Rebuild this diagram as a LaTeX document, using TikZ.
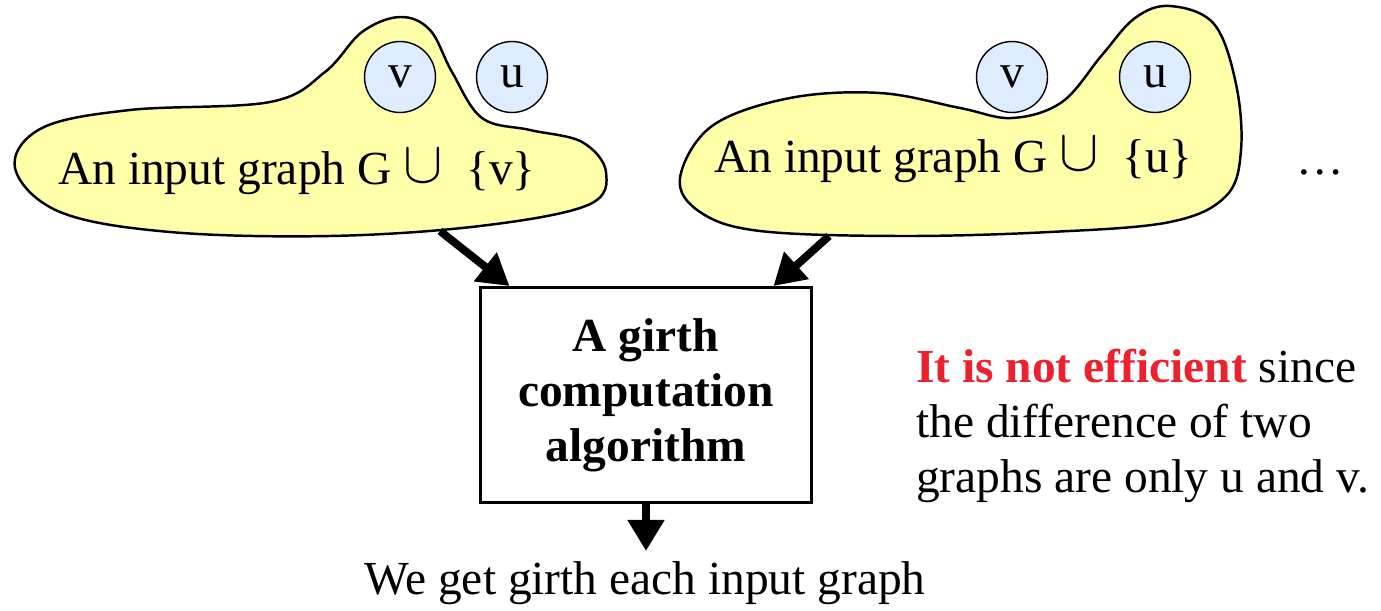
\documentclass[tikz,border=0pt]{standalone}
\usepackage{fontspec}
\setmainfont{Liberation Serif}
\usepackage{tikz}
\usetikzlibrary{arrows.meta,positioning,calc}

\definecolor{blobfill}{RGB}{255,255,170}
\definecolor{vertfill}{RGB}{222,236,255}
\definecolor{alertred}{RGB}{237,32,45}
\newcommand{\bigcupsym}{\raisebox{0.05em}{\scalebox{1.35}{$\cup$}}}

\begin{document}
\begin{tikzpicture}[
    x=0.02cm, y=-0.02cm,
    font=\fontsize{27}{31.3}\selectfont,
    blob/.style={draw=black, fill=blobfill, line width=1.4pt},
    vert/.style={circle, draw=black, fill=vertfill, line width=0.8pt, minimum size=1.42cm, inner sep=0pt},
    algbox/.style={rectangle, draw=black, line width=1.7pt, minimum width=6.64cm, minimum height=4.3cm, align=center, font=\fontsize{27}{31.3}\selectfont\bfseries},
    bigarrow/.style={-{Triangle[length=0.62cm, width=0.7cm]}, line width=4.5pt}
]
\useasboundingbox (0,0) rectangle (1381,611);

% Left input graph G + {v}
\draw[blob] plot[smooth cycle, tension=0.6] coordinates {
    (15,168) (42,128) (130,110) (270,102) (325,72) (362,32) (400,17) (430,30)
    (452,72) (482,118) (530,130) (582,142) (606,172) (588,205) (480,226)
    (330,236) (170,232) (60,212)};
\node[vert] (lv) at (400,77) {v};
\node[vert] (lu) at (512,77) {u};
\node (lgraph) at (297,172) {An input graph G \bigcupsym~~\{v\}};

% Right input graph G + {u}
\draw[blob] plot[smooth cycle, tension=0.6] coordinates {
    (680,178) (712,126) (790,98) (880,93) (960,108) (1012,118) (1062,102)
    (1102,55) (1135,18) (1170,6) (1214,24) (1236,84) (1241,150) (1226,196)
    (1170,222) (1050,232) (900,236) (760,231) (700,212)};
\node[vert] (rv) at (1012,77) {v};
\node[vert] (ru) at (1155,77) {u};
\node (rgraph) at (953,160) {An input graph G \bigcupsym~~\{u\}};
\node (more) at (1320,172) {\dots};

% Algorithm and its result
\node[algbox] (alg) at (646,395) {A girth\\ computation\\ algorithm};
\node (result) at (645,583) {We get girth each input graph};

\node[anchor=north west, align=left] (remark) at (910,343)
    {\textcolor{alertred}{\textbf{It is not efficient}} since\\ the difference of two\\ graphs are only u and v.};

% Connections
\coordinate (lout) at (440,231);
\coordinate (rout) at (829,236);
\draw[bigarrow] (lout) -- ($(alg.north west)+(31,0)$);
\draw[bigarrow] (rout) -- ($(alg.north east)+(-40,0)$);
\draw[bigarrow] (alg.south) -- ++(0,47) coordinate (resin);

\end{tikzpicture}
\end{document}
